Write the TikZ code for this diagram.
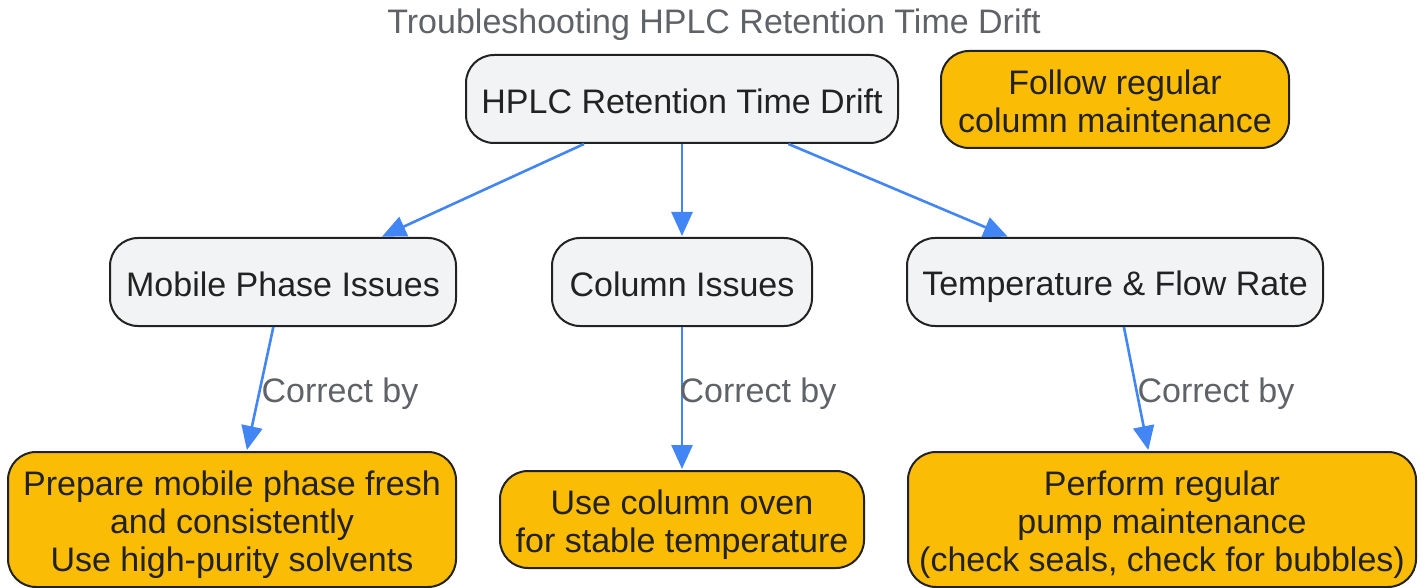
\documentclass[tikz,border=0pt]{standalone}
\usepackage{fontspec}
\setmainfont{Liberation Sans}
\usepackage{tikz}
\usetikzlibrary{arrows.meta}

\definecolor{issuefill}{HTML}{F1F3F4}
\definecolor{fixfill}{HTML}{FBBC05}
\definecolor{linkblue}{HTML}{4285F4}
\definecolor{labelgray}{HTML}{5F6368}
\definecolor{inkdark}{HTML}{222222}

% first line of a text, and the lines after it
\newcommand{\topln}{\rule[-2.4pt]{0pt}{19.6pt}}
\newcommand{\lnstrut}{\rule[-3.6pt]{0pt}{19pt}}

\tikzset{
  issue/.style={draw=inkdark, line width=1pt, fill=issuefill, rounded corners=14pt,
    inner sep=0pt, align=center, text=inkdark},
  fix/.style={issue, fill=fixfill},
  link/.style={draw=linkblue, line width=1.3pt, -{Triangle[length=12pt,width=10.5pt]}, shorten >=0.5pt},
  linklabel/.style={text=labelgray, inner sep=0pt}
}

\begin{document}
\begin{tikzpicture}[x=0.5pt,y=-0.5pt,font=\fontsize{17pt}{19pt}\selectfont]
        \useasboundingbox (0,0) rectangle (1428,588);
        \node[linklabel] (title) at (714,20) {\topln Troubleshooting HPLC Retention Time Drift};
        % issues
        \node[issue, minimum width=216pt, minimum height=44pt] (drift) at (682,99) {\topln HPLC Retention Time Drift};
        \node[fix, minimum width=174pt, minimum height=48.5pt] (maint) at (1115,99.5) {\topln Follow regular\\\lnstrut column maintenance};
        \node[issue, minimum width=173pt, minimum height=44pt] (mobile) at (283,282) {\topln Mobile Phase Issues};
        \node[issue, minimum width=130pt, minimum height=44pt] (column) at (682,282) {\topln Column Issues};
        \node[issue, minimum width=208pt, minimum height=44pt] (temp) at (1115,282) {\topln Temperature \& Flow Rate};
        % fixes
        \node[fix, minimum width=224pt, minimum height=67.5pt] (prepare) at (232,519.5) {\topln Prepare mobile phase fresh\\\lnstrut and consistently\\\lnstrut Use high-purity solvents};
        \node[fix, minimum width=182pt, minimum height=48.5pt] (oven) at (682,519.5) {\topln Use column oven\\\lnstrut for stable temperature};
        \node[fix, minimum width=254pt, minimum height=67.5pt] (pump) at (1162,519.5) {\topln Perform regular\\\lnstrut pump maintenance\\\lnstrut (check seals, check for bubbles)};
        % links
        \draw[link] (drift) -- (mobile);
        \draw[link] (drift) -- (column);
        \draw[link] (drift) -- (temp);
        \draw[link] (mobile) -- (prepare);
        \draw[link] (column) -- (oven);
        \draw[link] (temp) -- (pump);
        \node[linklabel] (lbmobile) at (340,389) {\topln Correct by};
        \node[linklabel] (lbcolumn) at (758,389) {\topln Correct by};
        \node[linklabel] (lbtemp) at (1216,389) {\topln Correct by};
    \end{tikzpicture}
\end{document}
